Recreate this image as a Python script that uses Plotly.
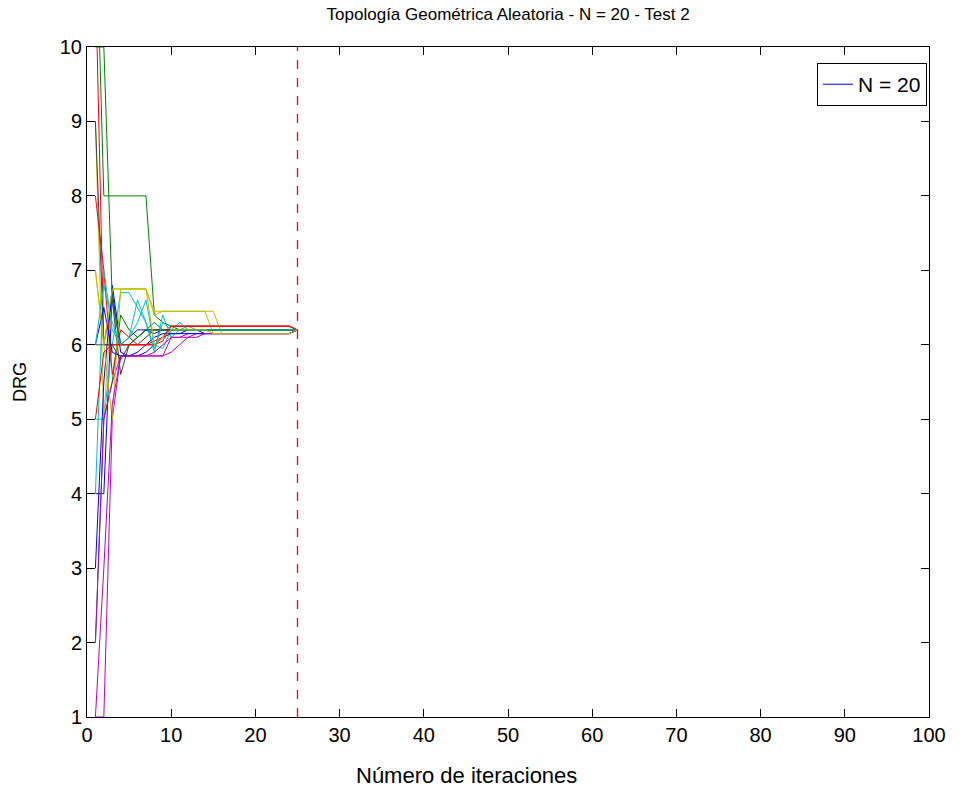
import plotly.graph_objects as go

iterations = list(range(1, 26))

# DRG value of each of the 20 nodes at every iteration
node_values = [
    [4.0, 4.0, 6.7, 5.9, 5.85, 5.85, 5.9, 6.0, 6.1, 6.15, 6.15, 6.2, 6.2, 6.15, 6.15, 6.15, 6.15, 6.15, 6.15, 6.15, 6.15, 6.15, 6.15, 6.15, 6.2],
    [12.0, 8.0, 8.0, 8.0, 8.0, 8.0, 8.0, 6.4, 6.3, 6.25, 6.2, 6.2, 6.2, 6.2, 6.2, 6.2, 6.2, 6.2, 6.2, 6.2, 6.2, 6.2, 6.2, 6.2, 6.2],
    [11.0, 6.0, 6.0, 6.0, 6.0, 6.0, 6.0, 6.0, 6.1, 6.25, 6.25, 6.25, 6.25, 6.25, 6.25, 6.25, 6.25, 6.25, 6.25, 6.25, 6.25, 6.25, 6.25, 6.25, 6.2],
    [5.0, 5.0, 6.0, 6.7, 6.7, 6.5, 6.3, 5.9, 6.4, 6.1, 6.2, 6.25, 6.2, 6.2, 6.2, 6.2, 6.2, 6.2, 6.2, 6.2, 6.2, 6.2, 6.2, 6.2, 6.2],
    [1.0, 1.0, 5.0, 5.85, 5.85, 5.85, 5.85, 5.85, 5.85, 6.1, 6.1, 6.15, 6.15, 6.15, 6.15, 6.15, 6.15, 6.15, 6.15, 6.15, 6.15, 6.15, 6.15, 6.15, 6.2],
    [9.0, 5.0, 6.75, 6.75, 6.75, 6.75, 6.75, 6.4, 6.45, 6.45, 6.45, 6.45, 6.45, 6.45, 6.15, 6.15, 6.15, 6.15, 6.15, 6.15, 6.15, 6.15, 6.15, 6.15, 6.2],
    [6.0, 6.0, 6.6, 5.6, 6.0, 6.0, 6.1, 6.2, 6.2, 6.2, 6.2, 6.2, 6.2, 6.2, 6.2, 6.2, 6.2, 6.2, 6.2, 6.2, 6.2, 6.2, 6.2, 6.2, 6.2],
    [3.0, 5.5, 6.8, 6.0, 6.1, 6.2, 6.2, 6.15, 6.2, 6.2, 6.2, 6.2, 6.2, 6.2, 6.2, 6.2, 6.2, 6.2, 6.2, 6.2, 6.2, 6.2, 6.2, 6.2, 6.2],
    [2.0, 5.0, 5.5, 6.4, 6.2, 6.1, 6.2, 6.2, 6.2, 6.2, 6.2, 6.2, 6.2, 6.2, 6.2, 6.2, 6.2, 6.2, 6.2, 6.2, 6.2, 6.2, 6.2, 6.2, 6.2],
    [8.0, 7.0, 5.6, 6.2, 6.1, 6.0, 6.0, 6.0, 6.05, 6.25, 6.25, 6.25, 6.25, 6.25, 6.25, 6.25, 6.25, 6.25, 6.25, 6.25, 6.25, 6.25, 6.25, 6.25, 6.2],
    [4.0, 7.0, 6.2, 6.0, 6.1, 6.3, 6.6, 6.0, 5.95, 6.2, 6.3, 6.2, 6.2, 6.2, 6.2, 6.2, 6.2, 6.2, 6.2, 6.2, 6.2, 6.2, 6.2, 6.2, 6.2],
    [2.0, 5.0, 5.5, 5.85, 5.85, 5.85, 5.85, 5.9, 6.0, 6.1, 6.1, 6.1, 6.15, 6.15, 6.15, 6.15, 6.15, 6.15, 6.15, 6.15, 6.15, 6.15, 6.15, 6.15, 6.2],
    [7.0, 6.0, 5.0, 6.75, 6.75, 6.75, 6.75, 6.45, 6.45, 6.45, 6.45, 6.45, 6.45, 6.45, 6.45, 6.15, 6.15, 6.15, 6.15, 6.15, 6.15, 6.15, 6.15, 6.15, 6.2],
    [9.0, 6.0, 6.0, 5.8, 6.0, 6.1, 6.2, 6.2, 6.2, 6.2, 6.2, 6.2, 6.2, 6.2, 6.2, 6.2, 6.2, 6.2, 6.2, 6.2, 6.2, 6.2, 6.2, 6.2, 6.2],
    [6.0, 6.5, 5.9, 5.85, 5.85, 5.9, 6.0, 6.1, 6.15, 6.15, 6.15, 6.15, 6.15, 6.15, 6.15, 6.15, 6.15, 6.15, 6.15, 6.15, 6.15, 6.15, 6.15, 6.15, 6.2],
    [10.0, 10.0, 6.6, 6.0, 6.0, 6.1, 6.2, 6.3, 6.2, 6.2, 6.2, 6.2, 6.2, 6.2, 6.2, 6.2, 6.2, 6.2, 6.2, 6.2, 6.2, 6.2, 6.2, 6.2, 6.2],
    [5.0, 5.9, 6.0, 6.0, 6.0, 6.0, 6.0, 6.05, 6.1, 6.25, 6.25, 6.25, 6.25, 6.25, 6.25, 6.25, 6.25, 6.25, 6.25, 6.25, 6.25, 6.25, 6.25, 6.25, 6.2],
    [6.0, 6.8, 6.3, 6.0, 6.1, 6.6, 6.3, 5.95, 6.3, 6.2, 6.2, 6.2, 6.2, 6.2, 6.2, 6.2, 6.2, 6.2, 6.2, 6.2, 6.2, 6.2, 6.2, 6.2, 6.2],
    [1.0, 3.0, 5.2, 5.85, 5.85, 5.85, 5.85, 5.85, 5.85, 5.9, 6.0, 6.1, 6.1, 6.15, 6.15, 6.15, 6.15, 6.15, 6.15, 6.15, 6.15, 6.15, 6.15, 6.15, 6.2],
    [7.0, 6.0, 6.75, 6.75, 6.75, 6.75, 6.75, 6.0, 6.1, 6.2, 6.2, 6.2, 6.2, 6.2, 6.15, 6.15, 6.15, 6.15, 6.15, 6.15, 6.15, 6.15, 6.15, 6.15, 6.2],
]

marker_iteration = 25
legend_label = "N = 20"
x_label = "Número de iteraciones"

colors = ["rgb(0,0,255)", "rgb(0,128,0)", "rgb(255,0,0)", "rgb(0,191,191)",
          "rgb(191,0,191)", "rgb(191,191,0)", "rgb(64,64,64)"]

fig = go.Figure()
for i, vals in enumerate(node_values):
    fig.add_trace(go.Scatter(
        x=iterations, y=vals, mode="lines",
        line=dict(color=colors[i % len(colors)], width=1),
        name=legend_label if i == 0 else f"nodo {i+1}",
        showlegend=(i == 0),
    ))

fig.add_vline(x=marker_iteration, line=dict(color="rgb(255,0,0)", width=1.3, dash="dash"))

font = "Liberation Sans, Arial, sans-serif"
fig.update_layout(
    width=966, height=792,
    margin=dict(l=87, r=37, t=47, b=75),
    paper_bgcolor="white", plot_bgcolor="white",
    font=dict(family=font, size=20, color="black"),
    title=dict(text="Topología Geométrica Aleatoria - N = 20 - Test 2",
               x=0.526, xanchor="center", y=1 - 14 / 792, yanchor="middle",
               xref="container", yref="container",
               font=dict(family=font, size=17, color="black")),
    showlegend=True,
    legend=dict(x=0.9976, xanchor="right", y=0.976, yanchor="top",
                bordercolor="black", borderwidth=1, bgcolor="white",
                font=dict(family=font, size=21)),
)
fig.add_annotation(
    text=x_label, xref="paper", yref="paper", x=0.4513, y=-0.0866,
    xanchor="center", yanchor="middle", showarrow=False,
    font=dict(family=font, size=22, color="black"),
)
fig.update_xaxes(
    range=[0, 100], dtick=10, tick0=0,
    showline=True, linecolor="black", linewidth=1, mirror="ticks",
    ticks="inside", ticklen=8, tickcolor="black", showgrid=False, zeroline=False,
    tickfont=dict(size=20),
)
fig.update_yaxes(
    range=[1, 10], dtick=1, tick0=1,
    showline=True, linecolor="black", linewidth=1, mirror="ticks",
    ticks="inside", ticklen=8, tickcolor="black", showgrid=False, zeroline=False,
    title=dict(text="DRG", standoff=28, font=dict(size=18)),
    tickfont=dict(size=20),
)

fig.write_html("out.html")
